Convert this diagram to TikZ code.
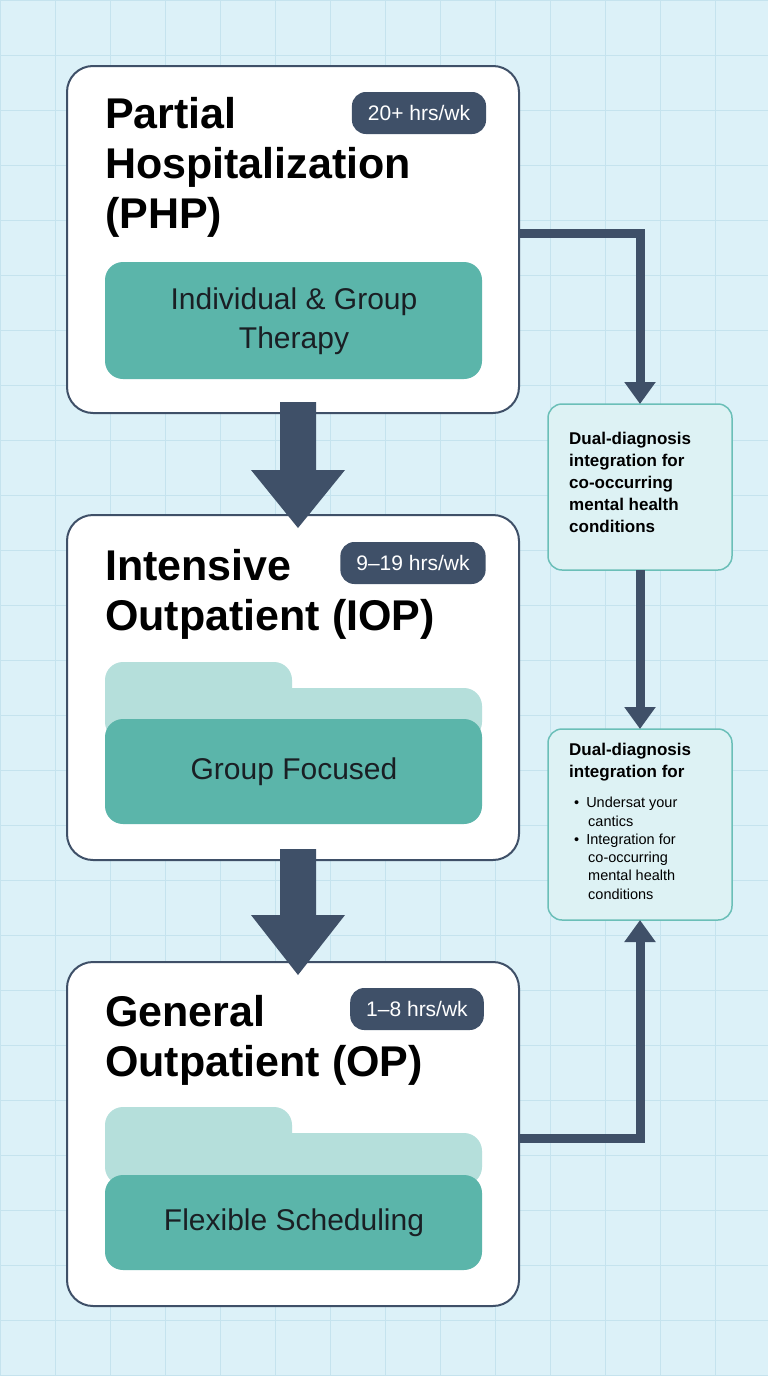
\documentclass[tikz,border=0pt]{standalone}
\usepackage{fontspec}
\setmainfont{Liberation Sans}
\usepackage{tikz}
\usetikzlibrary{positioning,arrows.meta}
\definecolor{bgblue}{HTML}{DCF1F8}
\definecolor{gridblue}{HTML}{C5E3EE}
\definecolor{navy}{HTML}{3F5068}
\definecolor{teal}{HTML}{5BB5AA}
\definecolor{lightteal}{HTML}{B5DFDB}
\definecolor{sidefill}{HTML}{DDF2F4}
\definecolor{sideline}{HTML}{6BBFB8}
\definecolor{ink}{HTML}{1A1F24}
\tikzset{
  level/.style={draw=navy,line width=2pt,fill=white,rounded corners=26pt},
  title/.style={anchor=north west,align=left,font=\fontsize{43}{50}\selectfont\bfseries,text=black,inner sep=0pt},
  hours/.style={fill=navy,text=white,rounded corners=14pt,font=\fontsize{21}{24}\selectfont,minimum height=42pt,inner xsep=16pt},
  care/.style={fill=teal,rounded corners=18pt,text=ink,align=center,font=\fontsize{30}{39}\selectfont},
  tab/.style={fill=lightteal,rounded corners=18pt},
  side/.style={draw=sideline,line width=1.5pt,fill=sidefill,rounded corners=14pt},
  flow/.style={draw=navy,line width=9pt,-{Triangle[length=22pt,width=30pt]}},
  bigstep/.style={fill=navy}
}
\begin{document}
\begin{tikzpicture}[x=1pt,y=-1pt]
  \fill[bgblue] (0,0) rectangle (768,1376);
  \useasboundingbox (0,0) rectangle (768,1376);
  % grid
  \foreach \g in {0,55,...,768} \draw[gridblue,line width=0.8pt] (\g,0) -- (\g,1376);
  \foreach \g in {0,55,...,1376} \draw[gridblue,line width=0.8pt] (0,\g) -- (768,\g);
  % PHP
  \draw[level] (67,66) rectangle (519,413);
  \coordinate (php) at (519,233);
  \node[title] (phpt) at (105,97) {Partial\\Hospitalization\\(PHP)};
  \node[hours] (phph) at (419,113) {20+ hrs/wk};
  \fill[teal,rounded corners=18pt] (105,262) rectangle (482,379);
  \node[care] (phpc) at (294,321) {Individual \& Group\\Therapy};
  % IOP
  \draw[level] (67,515) rectangle (519,860);
  \node[title] (iopt) at (105,549) {Intensive\\Outpatient (IOP)};
  \node[hours] (ioph) at (413,563) {9–19 hrs/wk};
  \fill[tab] (105,662) rectangle (292,720);
  \fill[tab] (105,688) rectangle (482,740);
  \fill[teal,rounded corners=18pt] (105,719) rectangle (482,824);
  \node[care] (iopc) at (294,772) {Group Focused};
  % OP
  \draw[level] (67,962) rectangle (519,1306);
  \coordinate (op) at (519,1138);
  \node[title] (opt) at (105,995) {General\\Outpatient (OP)};
  \node[hours] (oph) at (417,1009) {1–8 hrs/wk};
  \fill[tab] (105,1107) rectangle (292,1165);
  \fill[tab] (105,1133) rectangle (482,1185);
  \fill[teal,rounded corners=18pt] (105,1175) rectangle (482,1270);
  \node[care] (opc) at (294,1223) {Flexible Scheduling};
  % step arrows
  \fill[bigstep] (280,402) -- (316,402) -- (316,470) -- (345,470) -- (298,528) -- (251,470) -- (280,470) -- cycle;
  \fill[bigstep] (280,849) -- (316,849) -- (316,915) -- (345,915) -- (298,975) -- (251,915) -- (280,915) -- cycle;
  % side notes
  \draw[side] (548,404) rectangle (732,570);
  \coordinate (s1t) at (640,404);
  \coordinate (s1b) at (640,570);
  \node[anchor=north west,align=left,inner sep=0pt,font=\fontsize{17}{22}\selectfont\bfseries] (s1) at (569,432)
    {Dual-diagnosis\\integration for\\co-occurring\\mental health\\conditions};
  \draw[side] (548,729) rectangle (732,920);
  \coordinate (s2t) at (640,729);
  \coordinate (s2b) at (640,920);
  \node[anchor=north west,align=left,inner sep=0pt,font=\fontsize{17}{22}\selectfont\bfseries] (s2) at (569,743)
    {Dual-diagnosis\\integration for};
  \node[anchor=north west,align=left,inner sep=0pt,font=\fontsize{14.5}{18.3}\selectfont] (s2l) at (574,797)
    {•\hspace{7pt}Undersat your\\\hspace{14pt}cantics\\•\hspace{7pt}Integration for\\\hspace{14pt}co-occurring\\\hspace{14pt}mental health\\\hspace{14pt}conditions};
  % connectors
  \draw[flow] (php) -- (640,233) -- (s1t);
  \draw[flow] (s1b) -- (s2t);
  \draw[flow] (op) -- (640,1138) -- (s2b);
\end{tikzpicture}
\end{document}
